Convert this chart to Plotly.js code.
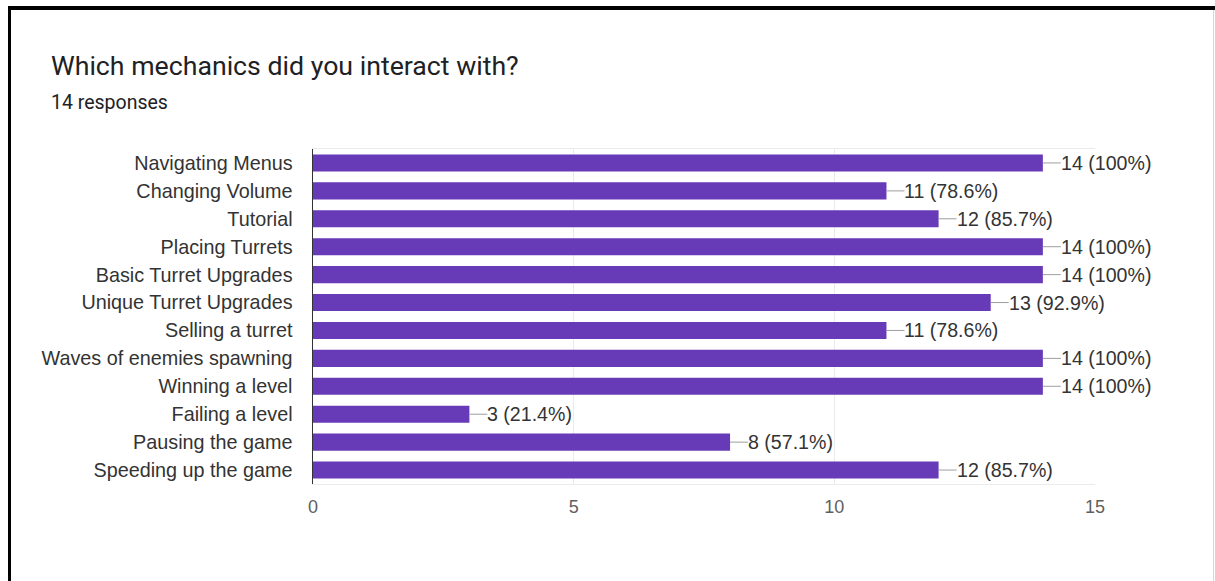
<!DOCTYPE html>
<html>
<head>
<meta charset="utf-8">
<script src="https://cdn.plot.ly/plotly-3.0.1.min.js"></script>
<style>
  html, body { margin: 0; padding: 0; background: #fff; }
  #wrap { position: relative; width: 1215px; height: 581px; overflow: hidden; }
  #chart { position: absolute; left: 0; top: 0; width: 1215px; height: 581px; }
  #bt { position: absolute; left: 8px; top: 6px; width: 1207px; height: 4px; background: #000; }
  #bl { position: absolute; left: 8px; top: 6px; width: 3px; height: 575px; background: #000; }
  #br { position: absolute; left: 1213px; top: 10px; width: 1px; height: 571px; background: #d8d8d8; }
</style>
</head>
<body>
<div id="wrap">
  <div id="chart"></div>
  <div id="bt"></div><div id="bl"></div><div id="br"></div>
</div>
<script>
const categories = [
  "Navigating Menus", "Changing Volume", "Tutorial", "Placing Turrets",
  "Basic Turret Upgrades", "Unique Turret Upgrades", "Selling a turret",
  "Waves of enemies spawning", "Winning a level", "Failing a level",
  "Pausing the game", "Speeding up the game"
];
const counts = [14, 11, 12, 14, 14, 13, 11, 14, 14, 3, 8, 12];
const valueLabels = [
  "14 (100%)", "11 (78.6%)", "12 (85.7%)", "14 (100%)", "14 (100%)",
  "13 (92.9%)", "11 (78.6%)", "14 (100%)", "14 (100%)", "3 (21.4%)",
  "8 (57.1%)", "12 (85.7%)"
];
const xTicks = [0, 5, 10, 15];
const titleText = "Which mechanics did you interact with?";
const subtitleText = "14 responses";

const catFont = { family: "Liberation Sans, Arial, sans-serif", size: 19.8, color: "#333333" };
const valFont = { family: "Liberation Sans, Arial, sans-serif", size: 19.6, color: "#333333" };

const shapes = categories.map((c, i) => ({
  type: "line", xref: "x", yref: "y", xsizemode: "pixel", xanchor: counts[i],
  x0: 0, x1: 18, y0: c, y1: c, line: { color: "#9e9e9e", width: 1 }
}));

const annotations = categories.map((c, i) => ({
  x: counts[i], y: c, xref: "x", yref: "y", text: valueLabels[i],
  showarrow: false, xanchor: "left", yanchor: "middle", xshift: 16,
  font: valFont
}));

// plot area: x 313..1095, y 149..484
annotations.push({
  xref: "paper", yref: "paper", x: (49 - 313) / 782, y: (484 - 66) / 335,
  xanchor: "left", yanchor: "middle", showarrow: false, text: titleText,
  font: { family: "Roboto, Open Sans, sans-serif", size: 26.7, color: "#202124" }
});
annotations.push({
  xref: "paper", yref: "paper", x: (49 - 313) / 782, y: (484 - 102) / 335,
  xanchor: "left", yanchor: "middle", showarrow: false, text: subtitleText,
  font: { family: "Roboto, Open Sans, sans-serif", size: 19.5, color: "#202124" }
});

const trace = {
  type: "bar", orientation: "h", x: counts, y: categories,
  marker: { color: "#673ab7", line: { width: 0 } },
  hoverinfo: "none"
};

const layout = {
  width: 1215, height: 581,
  margin: { l: 313, r: 120, t: 149, b: 97, pad: 0 },
  paper_bgcolor: "#ffffff", plot_bgcolor: "#ffffff",
  showlegend: false, bargap: 0.39,
  xaxis: {
    range: [0, 15], tickvals: xTicks, ticktext: xTicks.map(String),
    showgrid: true, gridcolor: "#ebebeb", gridwidth: 1, zeroline: false,
    showline: true, linecolor: "#ebebeb", linewidth: 1, mirror: true,
    ticks: "", ticklabelstandoff: 6,
    tickfont: { family: "Liberation Sans, Arial, sans-serif", size: 18, color: "#5f5f5f" },
    fixedrange: true
  },
  yaxis: {
    type: "category", categoryorder: "array", categoryarray: categories,
    autorange: "reversed", showgrid: false, zeroline: false,
    showline: true, linecolor: "#333333", linewidth: 1.5,
    ticks: "", ticklabelstandoff: 15, tickfont: catFont, fixedrange: true
  },
  shapes: shapes, annotations: annotations
};

Plotly.newPlot("chart", [trace], layout, { displayModeBar: false, staticPlot: true });
</script>
</body>
</html>
